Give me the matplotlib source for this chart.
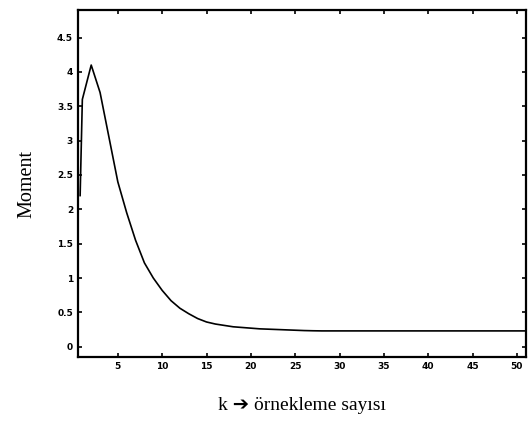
import numpy as np
import matplotlib.pyplot as plt

# moment values
k = [0.75, 1.0, 2, 3, 4, 5, 6, 7, 8, 9, 10, 11, 12, 13, 14, 15, 16, 17, 18, 19,
     20, 21, 22, 23, 24, 25, 26, 27, 28, 51]
moment = [2.2, 3.6, 4.1, 3.7, 3.05, 2.4, 1.95, 1.55, 1.22, 1.0, 0.82, 0.67, 0.56,
          0.48, 0.41, 0.36, 0.33, 0.31, 0.29, 0.28, 0.27, 0.26, 0.255, 0.25,
          0.245, 0.24, 0.235, 0.232, 0.23, 0.23]

xticks = [5, 10, 15, 20, 25, 30, 35, 40, 45, 50]
yticks = [0, 0.5, 1, 1.5, 2, 2.5, 3, 3.5, 4, 4.5]

fig = plt.figure(figsize=(5.3, 4.21), dpi=100)
ax = fig.add_axes([0.147, 0.152, 0.845, 0.824])

ax.plot(k, moment, color='k', lw=1.2)

ax.set_xlim(0.5, 51)
ax.set_ylim(-0.15, 4.9)
ax.set_xticks(xticks)
ax.set_yticks(yticks)
ax.set_yticklabels([f'{v:g}' for v in yticks])
ax.tick_params(direction='in', length=3, width=1.2, top=True, right=True,
               labelsize=6.5)
for lab in ax.get_xticklabels() + ax.get_yticklabels():
    lab.set_fontweight('bold')
for s in ax.spines.values():
    s.set_linewidth(1.6)

ax.set_ylabel('Moment', family=['Liberation Serif', 'DejaVu Sans'], fontsize=14.5,
              labelpad=15)
ax.set_xlabel('k \u2794 örnekleme sayısı', family=['Liberation Serif', 'DejaVu Sans'],
              fontsize=14, labelpad=19)

fig.savefig('out.png', dpi=100)
